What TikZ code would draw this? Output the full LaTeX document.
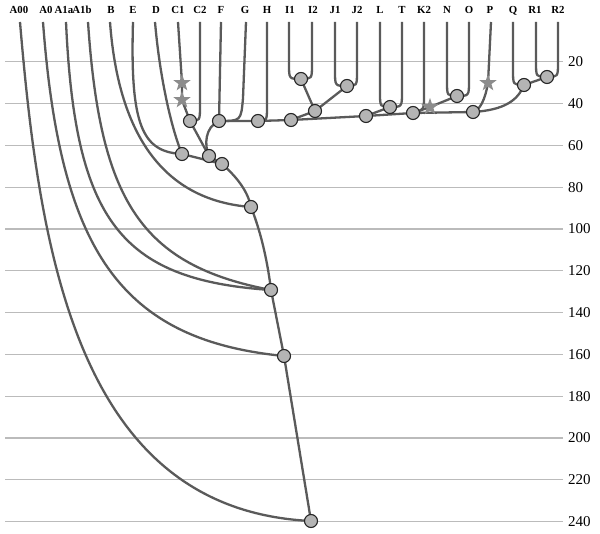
\documentclass[tikz,border=0pt]{standalone}
\usepackage{fontspec}
\setmainfont{Liberation Serif}
\usetikzlibrary{shapes.geometric,backgrounds}
\definecolor{gridgray}{HTML}{BBBBBB}
\definecolor{brgray}{HTML}{5A5A5A}
\definecolor{nodegray}{HTML}{B4B4B4}
\definecolor{stargray}{HTML}{8C8C8C}
\begin{document}
\begin{tikzpicture}[x=1pt,y=-1pt,
 gridline/.style={draw=gridgray,line width=1.2pt},
 br/.style={draw=brgray,line width=2.3pt},
 jn/.style={circle,fill=nodegray,draw=black!85,line width=1.1pt,inner sep=0pt,minimum size=13pt},
 st/.style={star,star points=5,star point ratio=2.5,fill=stargray,inner sep=0pt,minimum size=18pt},
 lab/.style={font=\bfseries\fontsize{10.8}{12}\selectfont,inner sep=0pt,anchor=base},
 ax/.style={font=\fontsize{15}{17}\selectfont,anchor=west,inner sep=0pt}]
\useasboundingbox (0,0) rectangle (600,534);
% top labels and line tops
\foreach \n/\lx/\x in {A00/19/20,A0/46/43,A1a/64/66,A1b/82/88,B/111/110,E/133/133,D/156/155,C1/178/178,C2/200/200,F/221/221,G/245/246,H/267/267,I1/290/289,I2/313/312,J1/335/335,J2/357/357,L/380/380,T/402/402,K2/424/424,N/447/447,O/469/469,P/490/491,Q/513/513,R1/535/536,R2/558/558}{
  \node[lab] (l\n) at (\lx,14) {\n};
  \coordinate (t\n) at (\x,22);
}
% junctions
\node[jn] (nDE) at (182,154) {};
\node[jn] (nCC) at (190,121) {};
\node[jn] (nFG) at (219,121) {};
\node[jn] (nH) at (258,121) {};
\node[jn] (nI) at (301,79) {};
\node[jn] (nJ) at (347,86) {};
\node[jn] (nIJ) at (315,111) {};
\node[jn] (nb1) at (291,120) {};
\node[jn] (nLT) at (390,107) {};
\node[jn] (nb2) at (366,116) {};
\node[jn] (nb3) at (413,113) {};
\node[jn] (nNO) at (457,96) {};
\node[jn] (nb4) at (473,112) {};
\node[jn] (nQ) at (524,85) {};
\node[jn] (nR) at (547,77) {};
\node[jn] (n209) at (209,156) {};
\node[jn] (n222) at (222,164) {};
\node[jn] (n251) at (251,207) {};
\node[jn] (n271) at (271,290) {};
\node[jn] (n284) at (284,356) {};
\node[jn] (n311) at (311,521) {};
\node[st] (sC1a) at (182,83) {};
\node[st] (sC1b) at (182,100) {};
\node[st] (sK) at (430,107) {};
\node[st] (sP) at (488,83) {};
\begin{scope}[on background layer]
\fill[white] (0,0) rectangle (600,534);
\foreach \v in {20,40,...,240}{
  \pgfmathsetmacro\yy{20+2.09*\v}
  \draw[gridline] (5,\yy) -- (563,\yy);
  \node[ax] (ax\v) at (568,\yy) {\v};
}
% left curves
\draw[br] (tA00) .. controls (40,260) and (80,510) .. (n311.center);
\draw[br] (tA0) .. controls (60,250) and (120,340) .. (n284.center);
\draw[br] (tA1a) .. controls (75,220) and (120,280) .. (n271.center);
\draw[br] (tA1b) .. controls (100,200) and (140,265) .. (n271.center);
\draw[br] (tB) .. controls (118,130) and (160,200) .. (n251.center);
\draw[br] (tE) .. controls (130,125) and (142,152) .. (nDE.center);
\draw[br] (tD) .. controls (160,80) and (172,130) .. (nDE.center);
% C, F, G, H
\draw[br] (tC1) -- (sC1a.center) -- (sC1b.center) -- (nCC.center);
\draw[br] (tC2) -- (200,105) .. controls (200,121) .. (nCC.center);
\draw[br] (tF) -- (nFG.center);
\draw[br] (tG) -- (243,98) .. controls (241,121) .. (nFG.center);
\draw[br] (tH) -- (267,105) .. controls (267,121) .. (nH.center);
% U shapes
\draw[br] (tI1) -- (289,64) .. controls (289,79) .. (nI.center);
\draw[br] (tI2) -- (312,64) .. controls (312,79) .. (nI.center);
\draw[br] (tJ1) -- (335,71) .. controls (335,86) .. (nJ.center);
\draw[br] (tJ2) -- (357,71) .. controls (357,86) .. (nJ.center);
\draw[br] (tL) -- (380,92) .. controls (380,107) .. (nLT.center);
\draw[br] (tT) -- (402,92) .. controls (402,107) .. (nLT.center);
\draw[br] (tN) -- (447,81) .. controls (447,96) .. (nNO.center);
\draw[br] (tO) -- (469,81) .. controls (469,96) .. (nNO.center);
\draw[br] (tQ) -- (513,70) .. controls (513,85) .. (nQ.center);
\draw[br] (tR1) -- (536,62) .. controls (536,77) .. (nR.center);
\draw[br] (tR2) -- (558,62) .. controls (558,77) .. (nR.center);
\draw[br] (tK2) -- (424,96) .. controls (424,110) .. (nb3.center);
\draw[br] (tP) -- (sP.center) .. controls (485,100) and (480,110) .. (nb4.center);
% inner links
\draw[br] (nI.center) -- (nIJ.center) -- (nJ.center);
\draw[br] (nIJ.center) -- (nb1.center);
\draw[br] (nLT.center) -- (nb2.center);
\draw[br] (nNO.center) -- (sK.center) -- (nb3.center);
\draw[br] (nQ.center) -- (nR.center);
% backbone
\draw[br] (nFG.center) -- (nH.center) -- (nb1.center) -- (nb2.center) -- (nb3.center) -- (nb4.center) .. controls (505,110) and (518,100) .. (nQ.center);
% lower trunk
\draw[br] (nFG.center) .. controls (205,127) and (204,145) .. (n209.center);
\draw[br] (nCC.center) -- (n209.center) -- (n222.center);
\draw[br] (nDE.center) -- (n222.center);
\draw[br] (n222.center) .. controls (238,178) and (248,192) .. (n251.center);
\draw[br] (n251.center) .. controls (262,235) and (268,265) .. (n271.center);
\draw[br] (n271.center) -- (n284.center) -- (n311.center);
\end{scope}
\end{tikzpicture}
\end{document}
